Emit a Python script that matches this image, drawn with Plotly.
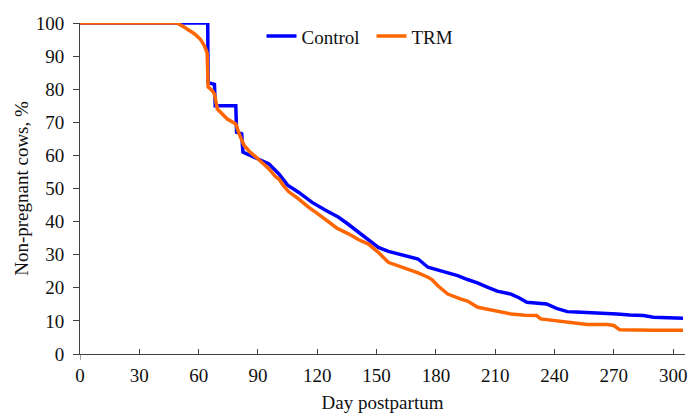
import plotly.graph_objects as go

# Control group (Kaplan-Meier style survival, % non-pregnant)
ctrl_day = [0, 64.6, 64.8, 68, 68.4, 78.8, 79.2, 81.8, 82.4, 86, 90, 95.6, 100.6, 105,
            110.7, 117.4, 124, 130.8, 135, 140.8, 146, 150.9, 156, 161, 166, 171, 176,
            181, 186, 191, 196, 201, 206, 211, 218, 222, 226, 231, 236, 241, 246.5, 251,
            256.5, 265, 271.6, 278, 285, 290, 297, 305]
ctrl_val = [100, 100, 82, 81.5, 75, 75, 67, 66.5, 61, 60, 59, 57.4, 54.4, 51,
            48.8, 45.8, 43.5, 41.3, 39.5, 36.8, 34.5, 32.2, 31, 30.2, 29.3, 28.7, 26.2,
            25.3, 24.6, 23.7, 22.5, 21.5, 20.2, 19, 18.1, 17, 15.6, 15.3, 15.1, 13.8, 12.8, 12.7,
            12.6, 12.3, 12.1, 11.8, 11.6, 11.1, 11, 10.8]

# TRM group
trm_day = [0, 49, 52, 55, 58, 61, 63, 64.3, 64.8, 67, 68, 69.5, 72, 74.5, 78.8, 80.5, 83,
           86, 89, 92, 95.6, 99, 100.6, 103, 105.6, 110.7, 115.7, 120, 125.8, 130, 135.8,
           141, 145.9, 150.9, 155.9, 161, 166, 171, 176, 178, 181, 186, 192.7, 196, 201.2,
           206, 211, 218, 225, 231, 233, 238, 244.8, 250, 256.5, 266.6, 270, 273, 280, 290, 305]
trm_val = [100, 100, 99, 98, 96.7, 95, 93, 91, 80.7, 79.5, 78.5, 74, 72.5, 71, 69.5, 66.5, 63,
           61, 59.5, 57.8, 55.9, 53.5, 52.9, 50.8, 49, 46.8, 44.3, 42.5, 39.8, 38, 36.3,
           34.5, 33.2, 30.7, 27.7, 26.7, 25.7, 24.5, 23.2, 22.5, 20.6, 18.1, 16.6, 16, 14.1,
           13.5, 13.1, 12.1, 11.7, 11.6, 10.6, 10.2, 9.6, 9.2, 8.9, 8.9, 8.6, 7.3, 7.2, 7.2, 7.2]

x_ticks = [0, 30, 60, 90, 120, 150, 180, 210, 240, 270, 300]
y_ticks = [0, 10, 20, 30, 40, 50, 60, 70, 80, 90, 100]

FONT = "Liberation Serif, Times New Roman, serif"
AXIS_COLOR = "#404040"

fig = go.Figure()
fig.add_trace(go.Scatter(x=ctrl_day, y=ctrl_val, mode="lines", name="Control",
                         line=dict(color="#0000FF", width=3.5)))
fig.add_trace(go.Scatter(x=trm_day, y=trm_val, mode="lines", name="TRM",
                         line=dict(color="#FF6600", width=3.5)))

# short extension of the y-axis line below the x-axis (as in the reference)
fig.add_shape(type="line", xref="x", yref="paper", x0=0, x1=0, y0=-0.018, y1=0,
              line=dict(color=AXIS_COLOR, width=1))

fig.update_layout(
    width=690, height=413,
    margin=dict(l=80, r=5, t=23, b=59, autoexpand=False),
    paper_bgcolor="white", plot_bgcolor="white",
    font=dict(family=FONT, size=19, color="#111111"),
    showlegend=True,
    legend=dict(orientation="h", x=0.3, xanchor="left", y=0.96, yanchor="middle",
                bgcolor="rgba(0,0,0,0)", font=dict(size=19), itemwidth=30,
                entrywidth=65, entrywidthmode="pixels"),
    xaxis=dict(range=[0, 306], tickvals=x_ticks, ticktext=[str(v) for v in x_ticks],
               showgrid=False, zeroline=False, showline=True, linecolor=AXIS_COLOR,
               linewidth=1, ticks="inside", ticklen=5, tickcolor=AXIS_COLOR,
               automargin=False, tickfont=dict(size=19), ticklabelstandoff=4,
               title=dict(text="Day postpartum", standoff=10, font=dict(size=19))),
    yaxis=dict(range=[0, 100], tickvals=y_ticks, ticktext=[str(v) for v in y_ticks],
               showgrid=False, zeroline=False, showline=True, linecolor=AXIS_COLOR,
               linewidth=1, ticks="outside", ticklen=6, tickcolor=AXIS_COLOR,
               automargin=False, tickfont=dict(size=19), ticklabelstandoff=5,
               title=dict(text="Non-pregnant cows, %", standoff=2, font=dict(size=19))),
)

fig.write_html("out.html", post_script="document.body.style.margin='0';",
               config={"displayModeBar": False})
